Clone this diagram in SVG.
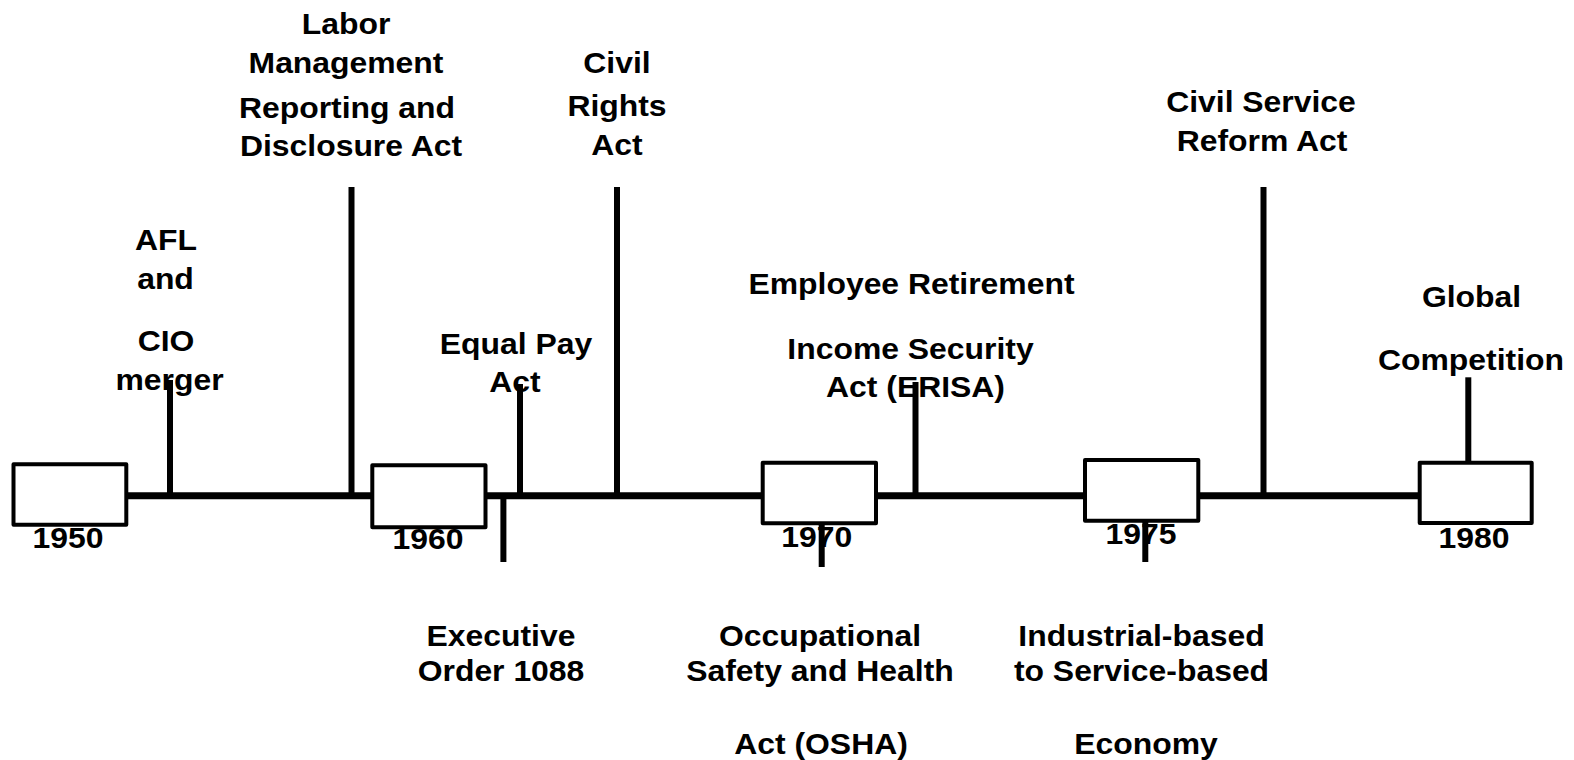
<svg xmlns="http://www.w3.org/2000/svg" width="1574" height="760" viewBox="0 0 1574 760">
<style>
  .t { font-family: "Liberation Sans", Arial, sans-serif; font-weight: bold; font-size: 29px; fill: #000; text-anchor: middle; }
  .box { fill: #fff; stroke: #000; stroke-width: 4; stroke-linejoin: round; }
  .line { stroke: #000; stroke-width: 7; fill: none; }
  .tick { stroke: #000; stroke-width: 6; fill: none; }
</style>
<rect width="1574" height="760" fill="#fff"/>

<g id="labels">
  <g id="afl-cio">
    <text class="t" transform="translate(166,250) scale(1.1,1)">AFL</text>
    <text class="t" transform="translate(165.5,289) scale(1.1,1)">and</text>
    <text class="t" transform="translate(166,351) scale(1.1,1)">CIO</text>
    <text class="t" transform="translate(169.5,390) scale(1.1,1)">merger</text>
  </g>
  <g id="lmrda">
    <text class="t" transform="translate(346,34) scale(1.1,1)">Labor</text>
    <text class="t" transform="translate(346,73) scale(1.1,1)">Management</text>
    <text class="t" transform="translate(347,118) scale(1.1,1)">Reporting and</text>
    <text class="t" transform="translate(351,156) scale(1.1,1)">Disclosure Act</text>
  </g>
  <g id="equal-pay">
    <text class="t" transform="translate(516,354) scale(1.1,1)">Equal Pay</text>
    <text class="t" transform="translate(515,392) scale(1.1,1)">Act</text>
  </g>
  <g id="civil-rights">
    <text class="t" transform="translate(617,73) scale(1.1,1)">Civil</text>
    <text class="t" transform="translate(617,116) scale(1.1,1)">Rights</text>
    <text class="t" transform="translate(617,155) scale(1.1,1)">Act</text>
  </g>
  <g id="erisa">
    <text class="t" transform="translate(911.5,294) scale(1.1,1)">Employee Retirement</text>
    <text class="t" transform="translate(910.5,359) scale(1.1,1)">Income Security</text>
    <text class="t" transform="translate(915.5,397) scale(1.1,1)">Act (ERISA)</text>
  </g>
  <g id="civil-service">
    <text class="t" transform="translate(1261,112) scale(1.1,1)">Civil Service</text>
    <text class="t" transform="translate(1262,150.5) scale(1.1,1)">Reform Act</text>
  </g>
  <g id="global">
    <text class="t" transform="translate(1471.5,307) scale(1.1,1)">Global</text>
    <text class="t" transform="translate(1471,370) scale(1.1,1)">Competition</text>
  </g>
  <g id="exec-order">
    <text class="t" transform="translate(501,646) scale(1.1,1)">Executive</text>
    <text class="t" transform="translate(501,681) scale(1.1,1)">Order 1088</text>
  </g>
  <g id="osha">
    <text class="t" transform="translate(820,646) scale(1.1,1)">Occupational</text>
    <text class="t" transform="translate(820,681) scale(1.1,1)">Safety and Health</text>
    <text class="t" transform="translate(821,754) scale(1.1,1)">Act (OSHA)</text>
  </g>
  <g id="economy">
    <text class="t" transform="translate(1141.5,646) scale(1.1,1)">Industrial-based</text>
    <text class="t" transform="translate(1141.5,681) scale(1.1,1)">to Service-based</text>
    <text class="t" transform="translate(1146,754) scale(1.1,1)">Economy</text>
  </g>
  <g id="years">
    <text class="t" transform="translate(68,548) scale(1.1,1)">1950</text>
    <text class="t" transform="translate(428,549) scale(1.1,1)">1960</text>
    <text class="t" transform="translate(816.7,546.7) scale(1.1,1)">1970</text>
    <text class="t" transform="translate(1141,544) scale(1.1,1)">1975</text>
    <text class="t" transform="translate(1474,547.5) scale(1.1,1)">1980</text>
  </g>
</g>

<g id="connectors">
  <line class="line" x1="126" y1="495.8" x2="1420" y2="495.8"/>
  <line class="tick" x1="170" y1="380" x2="170" y2="496"/>
  <line class="tick" x1="351.5" y1="187" x2="351.5" y2="496"/>
  <line class="tick" x1="503.4" y1="496" x2="503.4" y2="562"/>
  <line class="tick" x1="520" y1="384" x2="520" y2="496"/>
  <line class="tick" x1="617" y1="187" x2="617" y2="496"/>
  <line class="tick" x1="821.7" y1="523" x2="821.7" y2="567"/>
  <line class="tick" x1="915.5" y1="382" x2="915.5" y2="496"/>
  <line class="tick" x1="1145.3" y1="521" x2="1145.3" y2="562"/>
  <line class="tick" x1="1263.5" y1="187" x2="1263.5" y2="496"/>
  <line class="tick" x1="1468.3" y1="377.3" x2="1468.3" y2="462.7"/>
</g>

<g id="box-1950"><rect class="box" x="13.5" y="464.3" width="112.8" height="60.4"/></g>
<g id="box-1960"><rect class="box" x="372.3" y="465.3" width="113.2" height="61.9"/></g>
<g id="box-1970"><rect class="box" x="762.7" y="462.7" width="113.3" height="60.6"/></g>
<g id="box-1975"><rect class="box" x="1085" y="460" width="113.3" height="60.7"/></g>
<g id="box-1980"><rect class="box" x="1419.7" y="462.7" width="112" height="60.3"/></g>
</svg>
